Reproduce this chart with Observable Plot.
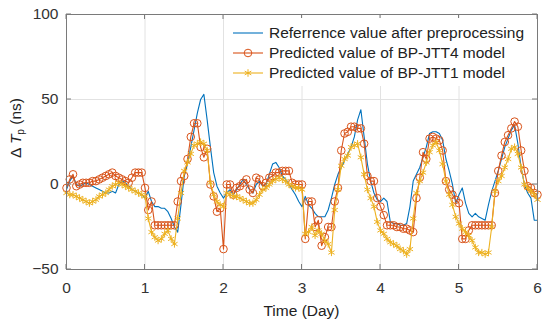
<!DOCTYPE html>
<html><head><meta charset="utf-8">
<script src="https://cdn.jsdelivr.net/npm/d3@7"></script>
<script src="https://cdn.jsdelivr.net/npm/@observablehq/plot@0.6"></script>
<style>
body{margin:0;background:#fff}
#chart{position:relative;width:550px;height:325px}
</style>
</head><body><div id="chart"></div>
<script>
const xTicks = [0, 1, 2, 3, 4, 5, 6];
const yTicks = [-50, 0, 50, 100];
const yTickLabels = ["\u221250", "0", "50", "100"];
const seriesNames = ["Referrence value after preprocessing", "Predicted value of BP-JTT4 model", "Predicted value of BP-JTT1 model"];
const colors = ["#0072BD", "#D95319", "#EDB120"];
// hourly samples, hour 0 .. 144
const reference = [
  -3, 2, 5, 0, -1, 0, 1, 0, -1, -2, -3, -4, -5, -5, -4, -5, 0, 2, 1, -1, -3, -4, -5, -6, -8,
  -4, -10, -13, -13, -14, -14, -16, -20, -25, -28, -12, 5, 12, 22, 32, 42, 50, 53, 38, 22, 7, -1, -5, -8,
  -5, -3, -6, -3, 0, 3, 0, -3, -5, 0, 2, -1, 0, 6, 12, 13, 10, 5, 3, 0, -3, -6, -10, -13,
  -7, -12, -14, -17, -19, -19, -19, -15, -8, 0, 6, 10, 14, 18, 22, 28, 38, 44, 28, 12, 2, -5, -9, -10,
  -8, -10, -22, -23, -23, -24, -24, -23, -13, 2, 6, 10, 16, 22, 30, 31, 31, 30, 26, 15, 8, 0, -11, -6,
  -2, -11, -17, -19, -17, -19, -20, -21, -12, -4, 2, 8, 15, 22, 27, 32, 35, 24, 10, 0, -5, -8, -21, -21
];
const jtt4 = [
  -2, 3, 6, -1, 0, 1, 1, 1, 2, 2, 3, 4, 5, 6, 7, 5, 4, 3, 2, 1, 4, 7, 7, 7, -2,
  -15, -10, -24, -24, -24, -24, -24, -24, -24, -10, 2, 5, 15, 28, 36, 36, 22, 16, 21, 0, -7, -16, -14, -38,
  0, 0, -6, -2, -1, 1, 3, -3, -5, 4, 3, -1, 1, 4, 5, 7, 7, 8, 8, 8, 1, 0, 0, 0,
  -32, -10, -10, -25, -21, -36, -31, -25, -25, -10, -2, 20, 30, 31, 34, 34, 33, 33, 24, 5, 2, 2, -8, -13,
  -18, -24, -24, -24, -25, -25, -26, -26, -27, -28, -8, 4, 19, 15, 27, 28, 27, 26, 20, 2, -3, -6, -9, -11,
  -32, -32, -27, -24, -24, -24, -24, -24, -24, -24, -5, 8, 17, 25, 29, 33, 37, 34, 20, 8, -1, -2, -5, -6
];
const jtt1 = [
  -5, -6, -6, -7, -8, -9, -10, -11, -10, -9, -7, -6, -5, -3, -1, 0, 1, 0, -1, -2, -3, -4, -5, -6, -7,
  -20, -28, -31, -33, -32, -29, -27, -32, -35, -20, -5, 8, 13, 18, 23, 24, 25, 24, 20, 1, -6, -10, -12, -13,
  -5, -6, -7, -7, -8, -9, -10, -11, -11, -9, -6, -3, -2, 0, 2, 3, 4, 3, 2, 0, -1, -2, -2, -3,
  -29, -28, -25, -30, -27, -29, -33, -35, -40, -15, -3, 11, 15, 17, 22, 23, 24, 16, 6, -3, -8, -13, -22, -27,
  -29, -32, -34, -35, -36, -38, -39, -41, -38, -20, -5, 2, 7, 13, 19, 23, 25, 20, 12, 2, -6, -12, -19, -23,
  -26, -28, -30, -33, -37, -40, -40, -41, -40, -25, -4, 2, 5, 10, 15, 21, 22, 18, 10, 0, -2, -4, -6, -9
];

const toRows = arr => arr.map((v, i) => ({t: i / 24, v}));
const refRows = toRows(reference), j4Rows = toRows(jtt4), j1Rows = toRows(jtt1);
const FONT = "'Liberation Sans', Arial, Helvetica, sans-serif";

const chart = Plot.plot({
  width: 550, height: 325,
  marginLeft: 66, marginRight: 13, marginTop: 14, marginBottom: 56,
  style: {fontFamily: FONT, fontSize: "15.5px", color: "#333", background: "#fff"},
  x: {domain: [0, 6]},
  y: {domain: [-50, 100]},
  marks: [
    Plot.gridX(xTicks, {stroke: "#e2e2e2", strokeOpacity: 1}),
    Plot.gridY(yTicks, {stroke: "#e2e2e2", strokeOpacity: 1}),
    Plot.line(refRows, {x: "t", y: "v", stroke: colors[0], strokeWidth: 1.1}),
    Plot.line(j4Rows, {x: "t", y: "v", stroke: colors[1], strokeWidth: 1.1}),
    Plot.dot(j4Rows, {x: "t", y: "v", r: 3.8, stroke: colors[1], fill: "none", strokeWidth: 1}),
    Plot.line(j1Rows, {x: "t", y: "v", stroke: colors[2], strokeWidth: 1.1}),
    Plot.dot(j1Rows, {x: "t", y: "v", symbol: "asterisk", r: 3.4, stroke: colors[2], strokeWidth: 1}),
    Plot.frame({stroke: "#7a7a7a", strokeWidth: 1}),
    Plot.axisX(xTicks, {tickSize: 0, tickPadding: 12, label: null, fill: "#333", tickFormat: d => String(d)}),
    Plot.axisY(yTicks, {tickSize: 0, tickPadding: 8, label: null, fill: "#333", tickFormat: (d, i) => yTickLabels[i]})
  ]
});
document.getElementById("chart").appendChild(chart);

const svg = d3.select(chart);
const xs = chart.scale("x"), ys = chart.scale("y");
const x0 = xs.apply(0), x1 = xs.apply(6), yTop = ys.apply(100), yBot = ys.apply(-50);
const TL = 5;
const g = svg.append("g").attr("stroke", "#7a7a7a").attr("stroke-width", 1);
xTicks.forEach(v => {
  const px = xs.apply(v);
  g.append("line").attr("x1", px).attr("x2", px).attr("y1", yBot).attr("y2", yBot - TL);
  g.append("line").attr("x1", px).attr("x2", px).attr("y1", yTop).attr("y2", yTop + TL);
});
yTicks.forEach(v => {
  const py = ys.apply(v);
  g.append("line").attr("x1", x0).attr("x2", x0 + TL).attr("y1", py).attr("y2", py);
  g.append("line").attr("x1", x1).attr("x2", x1 - TL).attr("y1", py).attr("y2", py);
});

// legend
const lg = svg.append("g").attr("font-family", FONT).attr("font-size", 15.5).attr("fill", "#222")
  .attr("text-anchor", "start");
lg.append("rect").attr("x", 226).attr("y", 18).attr("width", 306).attr("height", 68)
  .attr("fill", "#fff").attr("stroke", "none");
const rowsY = [33, 53, 73];
seriesNames.forEach((name, i) => {
  const y = rowsY[i];
  lg.append("line").attr("x1", 233).attr("x2", 263).attr("y1", y).attr("y2", y)
    .attr("stroke", colors[i]).attr("stroke-width", 1.1);
  if (i === 1) lg.append("circle").attr("cx", 248).attr("cy", y).attr("r", 3.8)
    .attr("fill", "none").attr("stroke", colors[i]);
  if (i === 2) lg.append("path").attr("transform", `translate(248,${y})`)
    .attr("d", d3.symbol(d3.symbolAsterisk, 40)()).attr("fill", "none").attr("stroke", colors[i]);
  lg.append("text").attr("x", 269).attr("y", y).attr("dy", "0.35em")
    .attr("text-anchor", "start").attr("stroke", "none").text(name);
});

// axis labels
svg.append("text").attr("x", (x0 + x1) / 2).attr("y", 316).attr("text-anchor", "middle")
  .attr("font-family", FONT).attr("font-size", 15.5).attr("fill", "#222").text("Time (Day)");
const yl = svg.append("text").attr("transform", "translate(21,128) rotate(-90)")
  .attr("text-anchor", "middle").attr("font-family", FONT).attr("font-size", 15.5).attr("fill", "#222");
yl.append("tspan").text("\u0394 ");
yl.append("tspan").attr("font-style", "italic").text("T");
yl.append("tspan").attr("font-size", 10).attr("dy", 3).text("p");
yl.append("tspan").attr("dy", -3).text(" (ns)");
</script>
</body></html>
